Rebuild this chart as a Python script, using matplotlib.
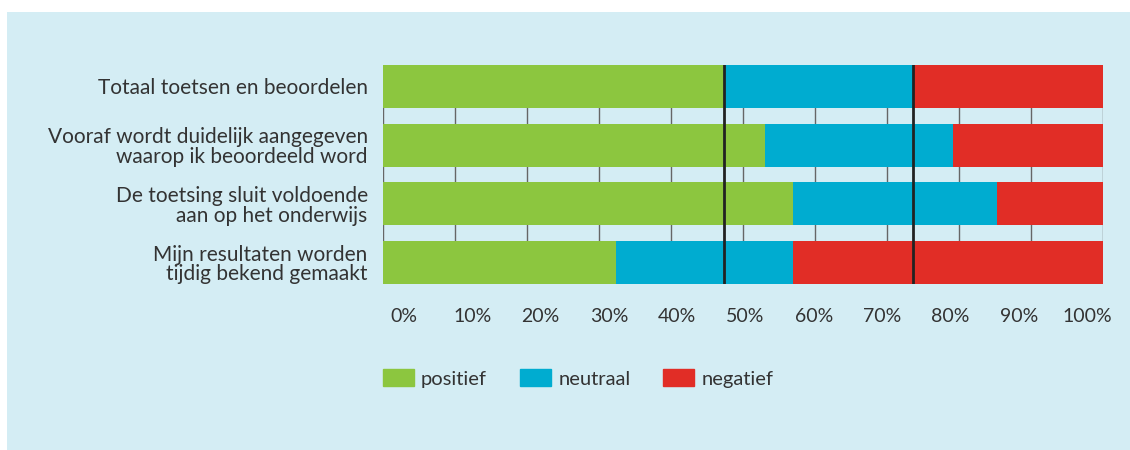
import matplotlib
matplotlib.use('Agg')
import matplotlib.pyplot as plt
from matplotlib.patches import Rectangle, Patch

# data (percentages)
categories = ['Totaal toetsen en beoordelen',
              'Vooraf wordt duidelijk aangegeven\nwaarop ik beoordeeld word',
              'De toetsing sluit voldoende\naan op het onderwijs',
              'Mijn resultaten worden\ntijdig bekend gemaakt']
positief = [47.3, 53.0, 56.9, 32.3]
neutraal = [26.3, 26.1, 28.4, 24.6]
negatief = [26.4, 20.9, 14.7, 43.1]
series_names = ['positief', 'neutraal', 'negatief']
tick_values = [0, 10, 20, 30, 40, 50, 60, 70, 80, 90, 100]
tick_labels = [f'{v}%' for v in tick_values]

GREEN = '#8cc63f'
BLUE = '#00acd0'
RED = '#e12d26'
PANEL = '#d4edf4'
TEXT = '#333333'

plt.rcParams['font.family'] = ['Lato', 'DejaVu Sans']

W, H = 1130, 450
fig = plt.figure(figsize=(W / 100, H / 100), dpi=100)
fig.patch.set_facecolor('white')
fig.patches.append(Rectangle((7 / W, 0), 1, 1 - 12 / H, transform=fig.transFigure,
                             facecolor=PANEL, edgecolor='none', zorder=-10))

ax = fig.add_axes([383 / W, 1 - 284 / H, 720 / W, 219 / H])
ax.set_facecolor('none')

y = list(range(len(categories)))
h = 0.73
left2 = [a + b for a, b in zip(positief, neutraal)]
ax.barh(y, positief, height=h, color=GREEN, zorder=2)
ax.barh(y, neutraal, left=positief, height=h, color=BLUE, zorder=2)
ax.barh(y, negatief, left=left2, height=h, color=RED, zorder=2)

# reference lines at the totals
ax.axvline(positief[0], color='#222222', lw=2, zorder=3)
ax.axvline(left2[0], color='#222222', lw=2, zorder=3)

ax.set_xlim(0, 100)
ax.set_ylim(len(categories) - 1 + h / 2, -h / 2)

# gridlines every 10%, labels sit slightly squeezed like the original
ax.set_xticks(tick_values, minor=True)
ax.grid(which='minor', axis='x', color='#666666', lw=1, zorder=0)
ax.set_xticks([2.9 + v * 0.949 for v in tick_values])
ax.set_xticklabels(tick_labels, fontsize=14, color=TEXT)
ax.tick_params(axis='x', which='both', length=0, pad=17)

ax.set_yticks(y)
ax.set_yticklabels(categories, fontsize=15, color=TEXT, linespacing=0.98)
ax.tick_params(axis='y', length=0, pad=11)

for s in ax.spines.values():
    s.set_visible(False)

handles = [Patch(color=c) for c in (GREEN, BLUE, RED)]
leg = fig.legend(handles, series_names, loc='upper left',
                 bbox_to_anchor=(383 / W, 1 - 369 / H), ncol=3, frameon=False,
                 fontsize=14.5, handlelength=1.54, handleheight=0.95,
                 handletextpad=0.35, columnspacing=1.64,
                 borderpad=0, borderaxespad=0)
for t in leg.get_texts():
    t.set_color(TEXT)

fig.savefig('out.png', dpi=100)
